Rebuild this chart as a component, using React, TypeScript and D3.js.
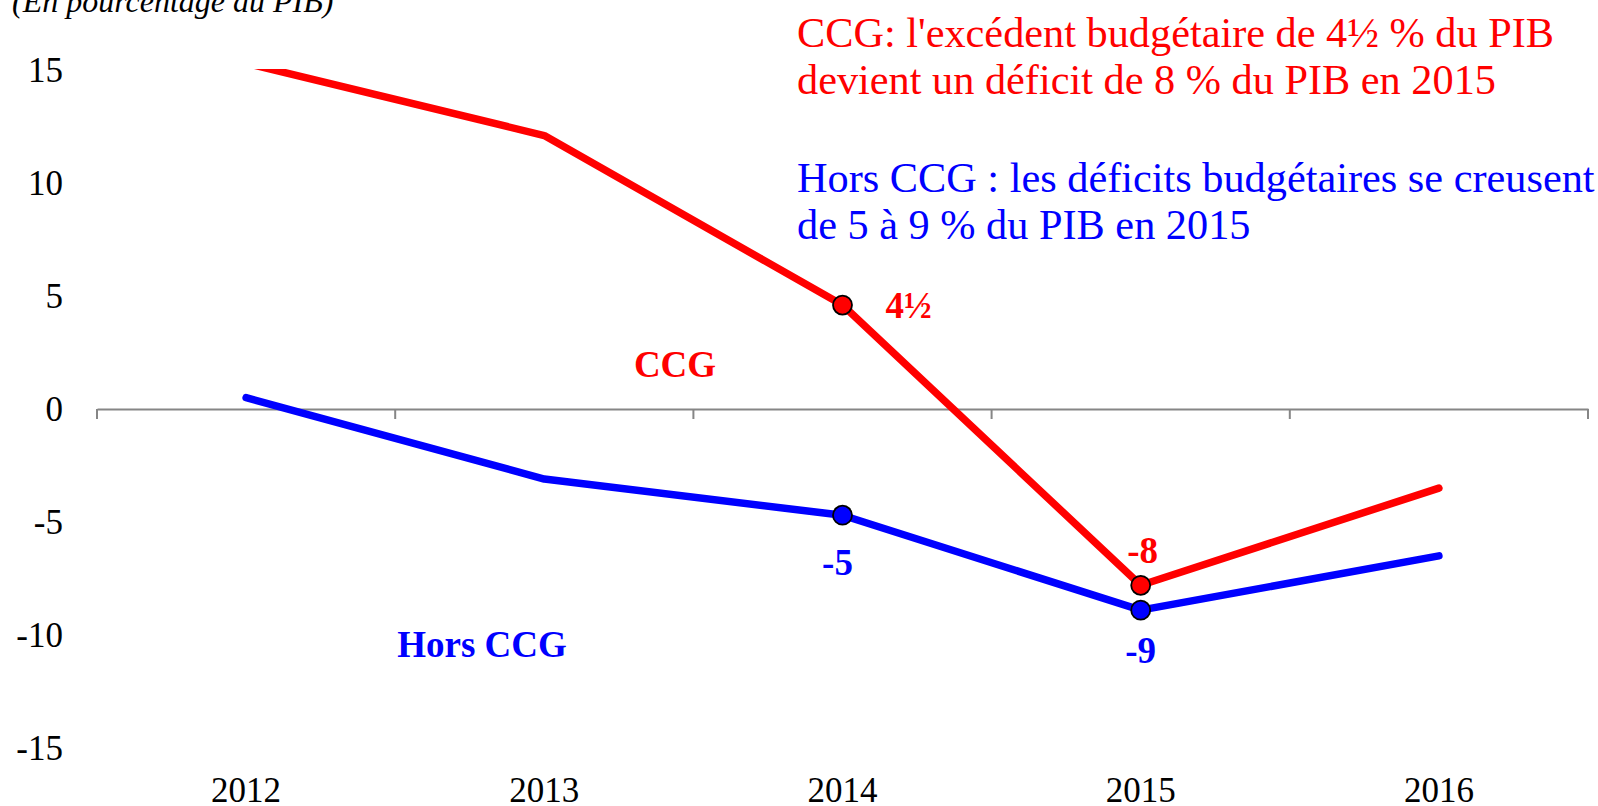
import React, { useEffect, useRef } from "react";
import * as d3 from "d3";

const years = ["2012", "2013", "2014", "2015", "2016"];
const ccg = [15.3, 12.1, 4.6, -7.8, -3.5];
const horsCcg = [0.5, -3.1, -4.7, -8.9, -6.5];
const yTicks = [15, 10, 5, 0, -5, -10, -15];
// indices of the points that carry a marker and a label
const markedIdx = [2, 3];
const ccgLabels = ["4½", "-8"];
const horsLabels = ["-5", "-9"];

const notesRed = ["CCG: l'excédent budgétaire de 4½ % du PIB", "devient un déficit de 8 % du PIB en 2015"];
const notesBlue = ["Hors CCG : les déficits budgétaires se creusent", "de 5 à 9 % du PIB en 2015"];

const W = 1598;
const H = 806;
const FONT = "'Liberation Serif', 'Times New Roman', serif";

export default function App() {
  const ref = useRef<SVGSVGElement>(null);

  useEffect(() => {
    const svg = d3.select(ref.current);
    svg.selectAll("*").remove();

    const x = d3.scaleBand().domain(years).range([97, 1588]).padding(0);
    const y = d3.scaleLinear().domain([-15, 15]).range([748, 70]);
    const cx = (i: number) => (x(years[i]) as number) + x.bandwidth() / 2;

    svg.append("defs").append("clipPath").attr("id", "plot")
      .append("rect").attr("x", 0).attr("y", y(15) - 1).attr("width", W).attr("height", y(-15) - y(15) + 20);

    // title, partly cut at the top
    svg.append("text").attr("x", 12).attr("y", 12)
      .attr("font-family", FONT).attr("font-style", "italic").attr("font-size", 32)
      .text("(En pourcentage du PIB)");

    // y tick labels
    svg.append("g").selectAll("text").data(yTicks).join("text")
      .attr("x", 63).attr("y", (d) => y(d)).attr("dy", "0.35em")
      .attr("text-anchor", "end").attr("font-family", FONT).attr("font-size", 35)
      .text((d) => String(d));

    // zero axis with downward ticks
    const axis = svg.append("g").attr("transform", `translate(0,${y(0)})`)
      .call(d3.axisBottom(x).tickValues([]).tickSize(0).tickSizeOuter(0));
    axis.select(".domain").attr("stroke", "#868686").attr("stroke-width", 2);
    const edges = years.map((d) => x(d) as number).concat([x.range()[1]]);
    axis.selectAll("line.tk").data(edges).join("line").attr("class", "tk")
      .attr("x1", (d) => d).attr("x2", (d) => d).attr("y1", 0).attr("y2", 10)
      .attr("stroke", "#868686").attr("stroke-width", 2);

    // x category labels
    svg.append("g").selectAll("text").data(years).join("text")
      .attr("x", (d, i) => cx(i)).attr("y", 802)
      .attr("text-anchor", "middle").attr("font-family", FONT).attr("font-size", 35)
      .text((d) => d);

    const line = d3.line<number>().x((d, i) => cx(i)).y((d) => y(d));
    const series = [
      { vals: ccg, color: "#ff0000", labels: ccgLabels },
      { vals: horsCcg, color: "#0000ff", labels: horsLabels },
    ];
    const plot = svg.append("g").attr("clip-path", "url(#plot)");
    series.forEach((s) => {
      plot.append("path").attr("d", line(s.vals)).attr("fill", "none")
        .attr("stroke", s.color).attr("stroke-width", 7.5)
        .attr("stroke-linecap", "round").attr("stroke-linejoin", "round");
    });
    series.forEach((s) => {
      svg.append("g").selectAll("circle").data(markedIdx).join("circle")
        .attr("cx", (i) => cx(i)).attr("cy", (i) => y(s.vals[i])).attr("r", 9.5)
        .attr("fill", s.color).attr("stroke", "#000").attr("stroke-width", 1.8);
    });

    // value labels
    const bold = (g: any) => g.attr("font-family", FONT).attr("font-weight", "bold").attr("font-size", 37);
    svg.append("text").call(bold).attr("fill", "#ff0000")
      .attr("x", cx(markedIdx[0]) + 43).attr("y", y(ccg[markedIdx[0]]) + 13).text(ccgLabels[0]);
    svg.append("text").call(bold).attr("fill", "#ff0000").attr("text-anchor", "middle")
      .attr("x", cx(markedIdx[1]) + 2).attr("y", y(ccg[markedIdx[1]]) - 22).text(ccgLabels[1]);
    svg.append("text").call(bold).attr("fill", "#0000ff").attr("text-anchor", "middle")
      .attr("x", cx(markedIdx[0]) - 5).attr("y", y(horsCcg[markedIdx[0]]) + 60).text(horsLabels[0]);
    svg.append("text").call(bold).attr("fill", "#0000ff").attr("text-anchor", "middle")
      .attr("x", cx(markedIdx[1])).attr("y", y(horsCcg[markedIdx[1]]) + 53).text(horsLabels[1]);

    // series names
    svg.append("text").call(bold).attr("fill", "#ff0000").attr("text-anchor", "middle")
      .attr("x", 675).attr("y", 377).text("CCG");
    svg.append("text").call(bold).attr("fill", "#0000ff").attr("text-anchor", "middle")
      .attr("x", 482).attr("y", 657).text("Hors CCG");

    // notes
    const note = (lines: string[], color: string, y0: number) => {
      svg.append("g").selectAll("text").data(lines).join("text")
        .attr("x", 797).attr("y", (d, i) => y0 + i * 47)
        .attr("font-family", FONT).attr("font-size", 42.3).attr("fill", color)
        .text((d) => d);
    };
    note(notesRed, "#ff0000", 47);
    note(notesBlue, "#0000ff", 192);
  }, []);

  return (
    <svg ref={ref} width={W} height={H}
      style={{ position: "absolute", left: 0, top: 0, background: "#fff" }} />
  );
}
